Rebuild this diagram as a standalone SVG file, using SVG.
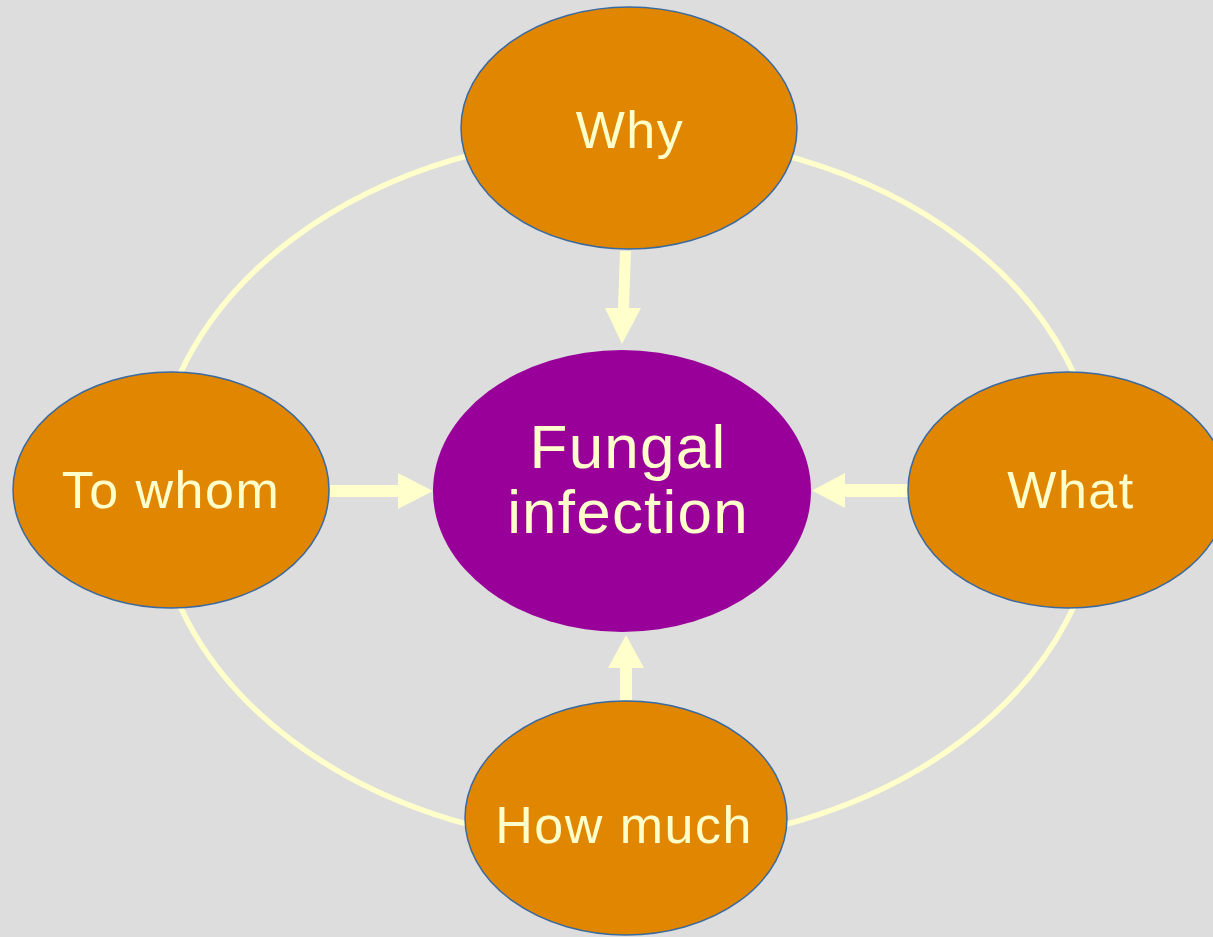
<svg xmlns="http://www.w3.org/2000/svg" width="1213" height="937" viewBox="0 0 1213 937">
<style>
.bg{fill:#DDDDDD}
.ring{fill:none;stroke:#FFFFCC;stroke-width:5.5}
.arrow{fill:#FFFFCC}
.node{fill:#E08600;stroke:#3A6AA0;stroke-width:1.5}
.center{fill:#990099}
.lbl{font-family:"Liberation Sans",Arial,sans-serif;font-size:52px;fill:#FFFFCC;text-anchor:middle;letter-spacing:1.5px}
.big{font-size:62px;letter-spacing:1.2px}
</style>
<rect class="bg" x="0" y="0" width="1213" height="937"/>
<g id="connectors">
<path class="ring" d="M627,135 A473,355 0 0 0 154,490"/>
<path class="ring" d="M627,135 A473,355 0 0 1 1100,490"/>
<path class="ring" d="M154,490 A473,355 0 0 0 627,845"/>
<path class="ring" d="M1100,490 A473,355 0 0 1 627,845"/>
<polygon class="arrow" points="620,251 631,251 629,308 641,308 622,344 605,308 618,308"/>
<polygon class="arrow" points="330,485 398,485 398,473 433,491 398,509 398,497 330,497"/>
<polygon class="arrow" points="908,484 845,484 845,473 812,490.5 845,508 845,497 908,497"/>
<polygon class="arrow" points="620,700 620,668 608,668 626,635 644,668 632,668 632,700"/>
</g>
<g id="node-center">
<ellipse class="center" cx="622" cy="491" rx="189" ry="141"/>
<text class="lbl big" x="628" y="468">Fungal</text>
<text class="lbl big" x="628" y="533">infection</text>
</g>
<g id="node-why">
<ellipse class="node" cx="629" cy="128" rx="168" ry="121"/>
<text class="lbl" x="630" y="148">Why</text>
</g>
<g id="node-towhom">
<ellipse class="node" cx="171" cy="490" rx="158" ry="118"/>
<text class="lbl" x="171" y="508">To whom</text>
</g>
<g id="node-what">
<ellipse class="node" cx="1068" cy="490" rx="160" ry="118"/>
<text class="lbl" x="1071" y="508">What</text>
</g>
<g id="node-howmuch">
<ellipse class="node" cx="626" cy="818" rx="161" ry="117"/>
<text class="lbl" x="624" y="843">How much</text>
</g>
</svg>
